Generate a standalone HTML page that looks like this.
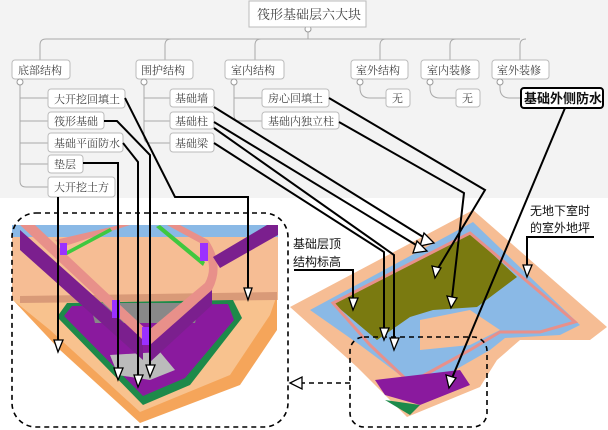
<!DOCTYPE html>
<html><head><meta charset="utf-8"><style>
html,body{margin:0;padding:0;background:#fff}
svg{display:block}
text{font-family:"Liberation Serif","Noto Serif CJK SC",serif;font-size:11px;fill:#444}
.b{fill:#fff;stroke:#bbb;stroke-width:1}
.c{fill:none;stroke:#aaa;stroke-width:1}
.a{fill:none;stroke:#000;stroke-width:2}
.h{fill:#fff;stroke:#000;stroke-width:1.3}
.s{font-family:"Liberation Sans","Noto Sans CJK SC",sans-serif;font-size:12px;fill:#111}
</style></head><body>
<svg width="608" height="430" viewBox="0 0 608 430" xmlns="http://www.w3.org/2000/svg">
<rect x="0" y="0" width="608" height="198" fill="#f3f3f3"/>
<path class="c" d="M308 27V39M40 60V45q0-6 6-6h330M165 60V45q0-6 6-6M255 60V45q0-6 6-6M380 60V45q0-6 6-6M450 60V45q0-6 6-6M520 60V45q0-6 6-6M376 39h144"/>
<path class="c" d="M20 80V181q0 6 6 6h22M20 98h28M20 121h28M20 143h28M20 164h28M144 80V137q0 6 6 6h20M144 98h26M144 121h26M234 80V115q0 6 6 6h22M234 98h28M360 80v8q0 10 10 10h16M430 80v8q0 10 10 10h16M500 80v8q0 10 10 10h11"/>
<circle cx="308" cy="29" r="3" fill="#fff" stroke="#999"/>
<rect class="b" x="249" y="1" width="117" height="26"/>
<text x="257" y="19" style="font-size:13px">筏形基础层六大块</text>
<rect class="b" x="12" y="60" width="58" height="19" rx="3"/><text x="18" y="74">底部结构</text>
<rect class="b" x="136" y="60" width="57" height="19" rx="3"/><text x="141" y="74">围护结构</text>
<rect class="b" x="225" y="60" width="59" height="19" rx="3"/><text x="231" y="74">室内结构</text>
<rect class="b" x="351" y="60" width="57" height="19" rx="3"/><text x="356" y="74">室外结构</text>
<rect class="b" x="421" y="60" width="58" height="19" rx="3"/><text x="427" y="74">室内装修</text>
<rect class="b" x="492" y="60" width="57" height="19" rx="3"/><text x="497" y="74">室外装修</text>
<g fill="#fff" stroke="#999"><circle cx="20" cy="82" r="3"/><circle cx="144" cy="82" r="3"/><circle cx="234" cy="82" r="3"/><circle cx="360" cy="82" r="3"/><circle cx="430" cy="82" r="3"/><circle cx="500" cy="82" r="3"/></g>
<rect class="b" x="48" y="89" width="77" height="19" rx="3"/><text x="54" y="103">大开挖回填土</text>
<rect class="b" x="48" y="112" width="56" height="17" rx="3"/><text x="54" y="125">筏形基础</text>
<rect class="b" x="48" y="133" width="75" height="19" rx="3"/><text x="54" y="147">基础平面防水</text>
<rect class="b" x="48" y="155" width="35" height="18" rx="3"/><text x="54" y="168">垫层</text>
<rect class="b" x="48" y="177" width="67" height="20" rx="3"/><text x="54" y="191">大开挖土方</text>
<rect class="b" x="170" y="89" width="44" height="18" rx="3"/><text x="175" y="102">基础墙</text>
<rect class="b" x="170" y="112" width="44" height="17" rx="3"/><text x="175" y="125">基础柱</text>
<rect class="b" x="170" y="133" width="44" height="19" rx="3"/><text x="175" y="147">基础梁</text>
<rect class="b" x="262" y="89" width="67" height="18" rx="3"/><text x="268" y="102">房心回填土</text>
<rect class="b" x="262" y="112" width="77" height="17" rx="3"/><text x="268" y="125">基础内独立柱</text>
<rect class="b" x="386" y="89" width="24" height="18" rx="3"/><text x="392" y="102">无</text>
<rect class="b" x="456" y="89" width="24" height="18" rx="3"/><text x="462" y="102">无</text>
<rect x="521" y="88" width="82" height="20" rx="3" fill="#fff" stroke="#000" stroke-width="2"/>
<text x="524" y="103" class="s" style="font-size:13px;font-weight:bold">基础外侧防水</text>

<!-- left render -->
<rect x="12" y="225" width="266" height="75" fill="#f6bd94"/>
<rect x="12" y="225" width="266" height="12" fill="#8ab9e6"/>
<polygon points="13,300 277,295 277,330 240,385 140,423 60,350" fill="#f5a55a"/>
<polygon points="13,300 277,295 270,315 230,375 140,412 50,330" fill="#f8c28e"/>
<polygon points="20,296 277,292 277,300 20,303" fill="#d99a78"/>
<polygon points="57,317 67,303 233,300 242,318 190,385 143,405" fill="#1d8a4a"/>
<polygon points="64,316 72,306 228,304 234,320 185,378 143,396" fill="#8a1a9e"/>
<polygon points="90,303 200,303 195,323 95,323" fill="#888"/>
<polygon points="110,355 160,352 175,370 150,380 118,375" fill="#bbb"/>
<!-- main diagonal wall -->
<polygon points="20,225 35,225 150,333 143,340" fill="#e8908a"/>
<polygon points="20,230 143,340 143,360 20,250" fill="#7b1f8e"/>
<!-- curved wall -->
<path d="M143 335 L205 283 Q215 265 200 243 L167 225 L180 225 L208 240 Q225 265 212 290 L150 345Z" fill="#e8908a"/>
<path d="M150 345 L212 290 L212 305 L150 362Z" fill="#7b1f8e"/>
<polygon points="213,257 267,225 278,225 278,235 220,268" fill="#7b1f8e"/>
<polygon points="55,240 120,225 130,225 62,247" fill="#e8908a"/>
<polygon points="65,252 110,228 112,231 67,255" fill="#3fc83f"/>
<polygon points="160,225 205,262 203,266 156,227" fill="#3fc83f"/>
<rect x="112" y="300" width="8" height="18" fill="#9b30ff"/><rect x="142" y="327" width="8" height="18" fill="#9b30ff"/><rect x="200" y="243" width="8" height="18" fill="#9b30ff"/><rect x="60" y="243" width="7" height="12" fill="#9b30ff"/>
<rect x="12" y="213" width="276" height="214" rx="24" fill="none" stroke="#000" stroke-width="1.6" stroke-dasharray="5,4"/>

<!-- right render -->
<polygon points="290,307 473,210 607,327 590,340 520,340 497,360 480,387 407,417 357,367" fill="#f6bd94"/>
<polygon points="310,310 473,222 580,325 560,335 505,338 490,350 420,390 360,345" fill="#8ab9e6"/>
<polygon points="333,303 470,233 517,277 477,307 433,310 410,317 377,340" fill="#7a7a10"/>
<polygon points="333,303 470,233 575,322 540,332 500,332 470,350 410,383 370,345" fill="none" stroke="#e8908a" stroke-width="3"/>
<polygon points="420,320 470,310 500,330 470,345 420,350" fill="#f6bd94"/>
<polygon points="375,380 460,370 470,385 420,405 385,395" fill="#8a1a9e"/>
<polygon points="385,400 420,405 410,415" fill="#1d8a4a"/>
<rect x="350" y="337" width="137" height="90" rx="14" fill="none" stroke="#000" stroke-width="1.6" stroke-dasharray="5,4"/>
<path d="M350 383H300" stroke="#000" stroke-width="1.6" stroke-dasharray="5,4"/>
<polygon points="290,383 302,377 302,389" fill="#fff" stroke="#000" stroke-width="1.3"/>

<text class="s" x="293" y="248">基础层顶</text>
<text class="s" x="293" y="266">结构标高</text>
<text class="s" x="530" y="215">无地下室时</text>
<text class="s" x="530" y="232">的室外地坪</text>

<path class="a" d="M125 98L175 197H248V292"/>
<path class="a" d="M104 121H117L150 155V368"/>
<path class="a" d="M123 143L138 162V378"/>
<path class="a" d="M83 163H118V372"/>
<path class="a" d="M58 197V343"/>
<path class="a" d="M214 107L428 240"/>
<path class="a" d="M214 122L421 248"/>
<path class="a" d="M214 143L384 252V330"/>
<path class="a" d="M214 128L394 255V340"/>
<path class="a" d="M329 98L485 190L437 270"/>
<path class="a" d="M339 122L464 193L452 298"/>
<path class="a" d="M565 108L452 378"/>
<path class="a" d="M294 270H353V300"/>
<path class="a" d="M594 237H527V266"/>
<g class="h">
<polygon points="244,288 252,288 248,300"/>
<polygon points="146,365 155,365 150,377"/>
<polygon points="134,375 143,375 138,387"/>
<polygon points="114,368 123,368 118,380"/>
<polygon points="54,340 63,340 58,352"/>
<polygon points="424,233 434,243 420,246"/>
<polygon points="417,241 427,251 413,253"/>
<polygon points="380,328 389,328 384,340"/>
<polygon points="390,338 399,338 394,350"/>
<polygon points="432,266 441,268 435,278"/>
<polygon points="447,296 457,298 451,308"/>
<polygon points="446,375 456,378 449,388"/>
<polygon points="349,298 358,298 353,310"/>
<polygon points="523,265 532,265 527,277"/>
</g>
</svg>
</body></html>
